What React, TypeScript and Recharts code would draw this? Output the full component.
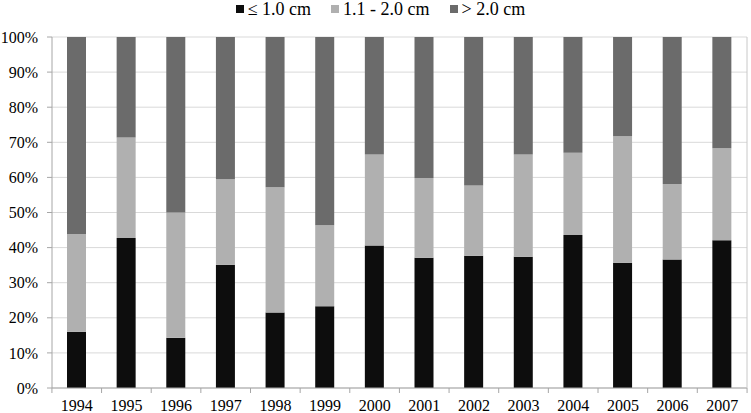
import React from "react";
import { BarChart, Bar, XAxis, YAxis, CartesianGrid, Legend } from "recharts";

const years = ["1994","1995","1996","1997","1998","1999","2000","2001","2002","2003","2004","2005","2006","2007"];
// cumulative tops (%)
const smallPct = [16.0, 42.7, 14.3, 35.1, 21.5, 23.3, 40.6, 37.1, 37.7, 37.4, 43.6, 35.7, 36.6, 42.1];
const smallMidTop = [43.9, 71.4, 50.0, 59.5, 57.2, 46.4, 66.5, 59.8, 57.7, 66.5, 67.0, 71.7, 58.1, 68.3];
const yTicks = [0, 10, 20, 30, 40, 50, 60, 70, 80, 90, 100];
const seriesNames = ["\u2264 1.0 cm", "1.1 - 2.0 cm", "> 2.0 cm"];
const seriesColors = ["#0d0d0d", "#b0b0b0", "#6b6b6b"];

const data = years.map((y, i) => ({
  year: y,
  small: smallPct[i],
  mid: +(smallMidTop[i] - smallPct[i]).toFixed(1),
  large: +(100 - smallMidTop[i]).toFixed(1),
}));

const W = 751;
const H = 413;
const MARGIN = { top: 13, right: 2, left: 0, bottom: 0 };
const Y_W = 52;
const PLOT_W = W - MARGIN.left - MARGIN.right - Y_W;
const BAND = PLOT_W / years.length;
const FONT = "Liberation Serif, Tinos, DejaVu Serif, serif";
const AXIS_COLOR = "#a6a6a6";

const XTick = (props: any) => {
  const { x, y, payload, index } = props;
  const half = BAND / 2;
  return (
    <g>
      <line x1={x - half} x2={x - half} y1={y - 12} y2={y - 7} stroke={AXIS_COLOR} />
      {index === years.length - 1 && (
        <line x1={x + half} x2={x + half} y1={y - 12} y2={y - 7} stroke={AXIS_COLOR} />
      )}
      <text x={x} y={y} dy="0.71em" textAnchor="middle" style={{ fontFamily: FONT }} fontSize={16} fill="#000">
        {payload.value}
      </text>
    </g>
  );
};

const YTick = (props: any) => {
  const { x, y, payload } = props;
  return (
    <text x={x} y={y} dy="0.355em" textAnchor="end" style={{ fontFamily: FONT }} fontSize={16} fill="#000">
      {`${payload.value}%`}
    </text>
  );
};

const LegendContent = () => (
  <div
    style={{
      display: "flex",
      justifyContent: "center",
      alignItems: "flex-start",
      height: 24,
      lineHeight: "18px",
      fontFamily: FONT,
      fontSize: 18,
      color: "#000",
      paddingLeft: 12,
    }}
  >
    {seriesNames.map((n, i) => (
      <div key={n} style={{ display: "flex", alignItems: "flex-start", marginLeft: i === 0 ? 0 : 20 }}>
        <span
          style={{
            display: "inline-block",
            width: 8,
            height: 8,
            marginTop: 5,
            marginRight: 4,
            background: seriesColors[i],
          }}
        />
        <span>{n}</span>
      </div>
    ))}
  </div>
);

export default function App() {
  return (
    <div style={{ position: "absolute", left: 0, top: 0, width: W, height: H, background: "#fff" }}>
      <BarChart width={W} height={H} data={data} margin={MARGIN} barSize={19}>
        <CartesianGrid vertical={false} stroke="#d9d9d9" />
        <XAxis
          dataKey="year"
          height={25}
          tickLine={false}
          tickSize={5}
          tickMargin={7}
          axisLine={{ stroke: AXIS_COLOR }}
          tick={<XTick />}
          interval={0}
        />
        <YAxis
          width={Y_W}
          domain={[0, 100]}
          ticks={yTicks}
          interval={0}
          tickSize={5}
          tickMargin={9}
          tickLine={{ stroke: AXIS_COLOR }}
          axisLine={{ stroke: AXIS_COLOR }}
          tick={<YTick />}
        />
        <YAxis
          yAxisId="r"
          orientation="right"
          width={2}
          tick={false}
          tickLine={false}
          axisLine={{ stroke: "#c8c8c8" }}
        />
        <Legend verticalAlign="top" content={<LegendContent />} wrapperStyle={{ top: 0 }} />
        <Bar dataKey="small" stackId="a" fill={seriesColors[0]} name={seriesNames[0]} isAnimationActive={false} />
        <Bar dataKey="mid" stackId="a" fill={seriesColors[1]} name={seriesNames[1]} isAnimationActive={false} />
        <Bar dataKey="large" stackId="a" fill={seriesColors[2]} name={seriesNames[2]} isAnimationActive={false} />
      </BarChart>
    </div>
  );
}
